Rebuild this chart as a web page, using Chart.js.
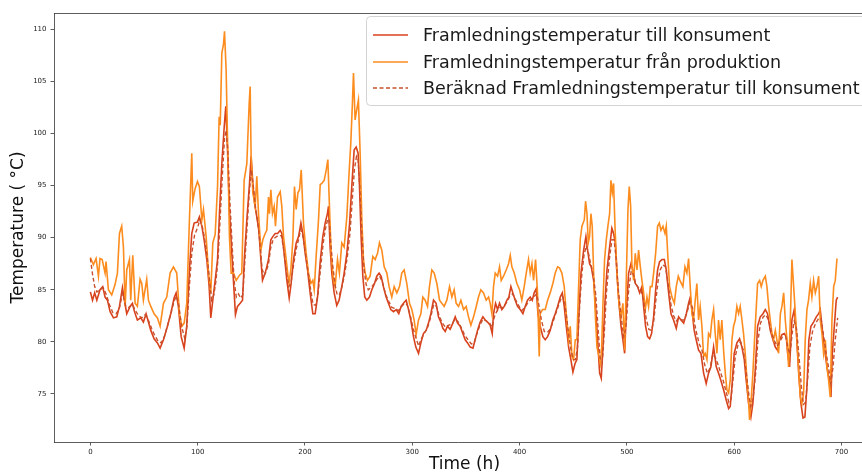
<!DOCTYPE html>
<html>
<head>
<meta charset="utf-8">
<script src="https://cdn.jsdelivr.net/npm/chart.js@4.4.1/dist/chart.umd.min.js"></script>
<style>
  html, body { margin: 0; padding: 0; background: #fff; }
  canvas { display: block; }
</style>
</head>
<body>
<canvas id="tempChart" width="862" height="476"></canvas>
<script>
// Framledningstemperatur till konsument
const consHours = [0,2,4,6,9,11.5,13.7,15.9,18.4,21.5,24.6,27.1,29.9,31.7,33.9,37,39.2,41.1,43.8,47,49.4,51.9,54.1,56.3,59.4,62.5,65,68.1,71.8,74.9,78,79.9,82,84.6,87.4,89.8,92.3,94.5,96.7,99.8,101.6,103.9,106,108.5,110.7,112.2,114.1,116.3,118.5,120.3,122.5,124.7,126.2,127.8,129.6,131.8,134,135.2,137.1,139.6,141.8,143.6,145.8,148.3,149.8,151.4,153,155.1,157,158.9,160.4,162.9,164.4,166,168.2,170,172.2,174.4,176.9,178.4,180.6,183.1,185.3,187.1,189.3,191.8,194,196.2,198,200.2,202.4,204.8,207.3,209.5,211.7,214.2,216.6,218.8,220.9,221.9,223.4,225,227.2,229.6,231.8,234.3,236.5,239,241.4,243.6,245.8,247.7,249.5,250.8,252.3,253.9,255.7,257.6,260.1,262.3,264.8,266.9,269.1,271,273.1,275.6,277.8,280,282.5,285,287.4,289.6,291.8,294.3,296.5,298.6,301.1,303.3,305.8,308,310.4,312.9,315.1,317.3,319.8,322.2,324.4,326.6,328.5,330.7,332.8,335.3,337.8,340,342.2,344.6,347.1,349.3,351.5,354,356.5,358.6,360.8,363.3,365.8,368,370.1,372.6,374.5,375.7,377.6,379.5,381.3,383.5,385.7,388.2,390,391.9,393.7,395.9,398.1,400.6,403.1,405.2,407.4,409.9,411.8,413.6,415.5,417.1,419.2,421.7,423.9,426.1,428.5,431,433.2,435.4,437.9,439.8,441.6,443.5,445.7,447.8,449.7,451.6,453.4,455,457.2,459.7,461.8,463.4,465.2,466.8,469,470.8,472.7,474.6,476.1,477.7,479.5,481.4,483.9,486,487.6,489.2,490.7,492.6,494.5,496.3,497.9,499.4,501.6,503.8,505.6,507.8,510,511.9,514,515.6,517.4,519.3,521.2,523,524.9,526.8,528.6,530.5,532.7,534.9,536.7,538.9,541.1,543.5,546,548.2,550.4,552.9,555.4,557.5,559.1,560.6,562.7,564.6,566.8,569,571.5,573.9,576.1,578.3,580.8,583.3,585.4,587.6,590.1,592.6,594.8,596.3,597.9,600,602.5,605,607.2,609.4,611.2,613.4,615.6,617.4,619.6,621.8,624.3,626.8,629,631.1,633.6,636.1,638.3,640.4,642.3,644.5,646.7,648.5,649.8,651.6,653.8,656,657.8,660.1,662.2,664.1,665.9,667.8,669.6,671.5,674,676.5,678.7,680.2,681.8,684,686.4,688.6,690.2,691.4,693.3,695.1,696.4];
const consTemps = [84.8,84.0,84.7,84.0,85.0,85.3,84.3,84.0,82.9,82.3,82.4,83.4,85.2,84.0,82.7,83.4,83.7,82.9,82.1,82.3,81.9,82.7,81.9,81.1,80.3,79.9,79.4,80.2,81.5,82.7,84.2,84.7,83.4,80.5,79.4,81.5,86.9,90.4,91.4,91.5,92.0,91.1,89.8,87.9,85.3,82.3,84.0,85.9,87.9,92.3,97.1,100.6,102.6,98.4,92.7,88.5,84.7,82.6,83.4,83.7,84.0,88.2,91.7,95.2,97.8,95.2,93.3,92.0,90.7,87.9,85.9,86.6,87.2,87.9,89.8,90.1,90.4,90.4,90.7,90.4,88.5,85.9,84.2,85.6,87.9,89.5,90.1,91.4,90.4,88.5,86.9,84.7,82.7,82.7,84.3,87.7,90.1,91.4,92.3,93.0,89.1,86.6,84.7,83.5,84.0,85.3,86.6,88.5,91.1,94.9,98.4,98.7,98.1,94.9,90.1,86.3,84.3,84.0,84.3,85.0,85.6,86.3,86.6,86.3,85.3,84.3,83.7,83.1,82.9,83.1,82.7,83.4,83.7,84.0,83.1,82.1,80.5,79.5,78.9,79.9,80.8,81.1,81.8,82.7,84.0,83.7,82.4,81.9,81.3,81.0,81.5,81.2,81.8,82.4,81.8,81.5,80.8,80.2,79.9,79.5,79.4,80.2,81.1,81.9,82.4,82.1,81.9,81.6,80.8,82.7,83.7,83.1,83.7,83.1,83.4,84.0,84.3,85.3,84.7,84.0,83.4,83.1,82.7,83.4,84.0,84.3,84.0,84.7,85.1,82.7,81.5,80.5,80.2,80.5,81.1,82.1,82.7,83.4,84.3,84.7,83.4,81.5,79.5,78.3,77.1,77.9,78.3,82.1,86.6,88.8,90.1,88.8,87.5,87.2,85.9,83.4,80.2,77.0,76.5,79.5,83.7,86.9,89.1,90.9,90.4,89.5,86.6,83.7,81.5,80.2,78.9,82.7,86.6,87.5,86.9,85.6,85.3,84.7,85.3,83.4,81.5,80.5,80.3,80.8,82.4,85.0,86.9,87.7,87.9,87.9,86.9,84.7,82.7,82.1,81.3,82.4,82.1,81.8,82.7,83.7,84.3,83.1,81.1,80.2,79.2,78.9,77.0,76.0,77.0,77.6,79.5,77.6,77.0,76.3,75.4,74.4,73.6,73.8,75.7,78.9,79.9,80.3,79.5,78.3,76.3,74.1,72.8,74.1,77.3,81.5,82.4,82.7,83.1,82.7,81.1,80.2,79.5,79.2,80.2,80.7,80.8,80.5,78.9,77.6,82.1,83.1,81.1,77.0,74.1,72.7,72.8,75.7,80.2,81.5,81.9,82.4,82.7,83.1,81.5,79.5,77.6,76.3,74.7,78.9,81.5,84.0,84.3];

// Framledningstemperatur från produktion
const prodHours = [0,2.8,5.3,7.5,9,11,13.7,14.6,16.8,19.9,23,25.2,27.1,29.2,30.8,32.4,33.9,36.4,37.6,39.5,41.7,43.8,46.3,47.9,49.4,52.5,54.1,56.3,59.4,62.5,65,68.1,71.2,74.3,77.4,80.5,83,85.2,87.4,89.8,92.3,94.5,95.4,97.6,99.8,101.6,103.9,105.4,107.9,110.1,112.2,114.1,116.3,118.5,120,121,122.5,124.1,125,126.5,128.1,129.6,131.2,133.4,135.9,139,141.1,143.3,145.8,148,148.9,149.8,151.4,153.6,155.1,156.7,158.9,160.7,162.9,164.4,166,166.9,168.2,169.7,171.3,172.5,174.4,176.9,178.4,180,182.5,185,186.8,188.7,190.2,191.8,193.4,194.9,196.5,198.6,201.1,203.3,205.5,207.3,208.6,210.4,212.6,214.2,215.7,217.9,219.8,221.3,222.8,224.4,226.5,228.1,230.3,232.1,234.3,236.5,239,241.1,242.7,244.2,245.2,246.7,248.3,249.8,251.4,253,254.5,256.1,258.2,260.7,263.2,265.4,267.6,269.4,271.6,273.8,276.3,278.4,280.9,283.1,285.6,288.1,290.2,292.4,294.9,297.4,299.6,301.7,303.6,305.8,308,309.8,312,314.2,316,318.2,320.4,322.9,325.4,327.5,329.7,332.2,334.7,336.9,339,340.9,343.1,345.3,347.8,350.2,352.4,354.6,357.1,359.6,361.7,363.9,366.4,368.9,371.1,372.6,374.2,375.7,377.3,379.5,381.3,382.9,385,387.5,389.7,391.3,392.8,395,397.5,400,402.1,404.3,406.2,408.3,409.9,411.5,413,414.9,416.7,418.3,419.2,421.4,423.9,426.1,428.5,431,433.2,435.4,437.2,439.4,441.6,443.5,445.7,447.2,448.8,450.3,451.9,453.4,455,456.5,458.1,460.3,461.5,462.8,464,465.2,466.5,467.7,469,470.5,472.1,474,475.2,476.4,477.7,479.2,480.8,482.3,483.9,485.1,486.4,487.6,488.9,490.7,492.6,494.5,496.3,497.9,499.4,501,502.2,503.5,504.7,506.3,507.8,509.4,510.9,512.5,514,515.6,517.1,518.7,520.2,521.8,523.4,524.9,526.8,528.6,530.2,531.7,533.6,535.5,536.7,538,539.8,542,544.2,546,547.9,549.8,552.2,554.1,555.9,557.5,559,560.6,562.1,563.7,565.2,566.8,568.3,569.9,571.5,573,574.6,576.1,577.7,579.2,580.8,582.3,583.9,585.4,587,588.5,590.1,591.7,593.2,594.8,596.3,597.9,599.4,601,602.5,604.1,605.6,607.2,608.7,610.3,611.9,613.4,614.3,615.6,617.4,619.6,621.8,623.7,625.2,626.8,629,630.5,632.1,633.6,635.2,636.7,638.3,639.8,641.4,643,644.5,646.1,647.6,649.2,650.7,652.3,653.8,655.4,657,658.5,660.1,661.6,663.1,664.7,666.2,667.8,669.3,670.9,672.4,674,675.6,677.1,678.7,680.2,681.8,683.3,684.9,686.4,688,689.5,691.1,692.7,694.2,695.8];
const prodTemps = [88.1,87.4,88.0,86.3,88.0,87.9,86.6,87.7,85.0,84.5,85.5,86.6,90.4,91.1,89.1,83.4,86.9,87.9,84.0,88.3,83.7,83.4,86.0,85.6,84.0,86.0,84.0,83.4,82.7,82.3,81.5,83.7,84.3,86.6,87.2,86.6,82.7,81.5,81.8,83.7,91.7,98.1,93.5,94.7,95.4,94.9,91.7,92.7,90.1,86.6,84.7,89.5,90.3,94.9,101.6,100.8,107.7,108.6,109.8,106.1,98.1,90.1,86.6,86.6,85.9,86.4,86.6,95.5,97.1,102.9,104.5,97.8,94.3,93.0,95.9,92.3,88.8,89.8,90.4,90.7,93.9,92.3,94.6,92.3,93.0,91.1,93.9,94.4,93.0,90.1,87.9,85.6,86.9,89.8,94.9,92.7,94.3,94.6,96.5,91.4,88.5,86.6,85.6,85.9,85.0,88.2,91.7,95.1,95.2,95.5,96.5,97.5,93.0,88.5,85.9,85.3,87.9,86.6,89.5,89.1,92.0,96.2,99.1,102.9,105.8,101.3,102.3,103.2,98.1,91.7,87.9,86.6,85.9,86.3,88.2,87.9,88.5,89.5,88.8,87.2,86.6,85.3,84.3,85.3,84.7,85.3,86.6,86.9,85.6,83.7,83.1,82.1,80.7,82.1,82.7,84.3,84.0,83.4,85.3,86.9,86.6,85.6,84.0,83.7,83.4,84.0,85.3,84.3,85.0,83.7,83.4,84.0,83.1,83.4,82.4,81.6,82.4,83.4,84.3,85.0,84.7,84.0,84.3,83.7,82.7,85.3,86.6,86.3,87.2,85.9,86.3,86.9,87.5,88.3,87.2,86.6,85.6,85.0,84.0,85.3,86.6,87.9,86.6,87.5,85.9,87.9,84.7,78.6,82.7,83.1,83.1,84.0,84.7,85.6,86.6,87.2,87.1,86.6,85.3,82.7,80.2,81.5,78.6,78.3,80.2,80.2,85.3,89.8,91.1,91.7,93.5,92.3,89.5,90.1,92.3,91.1,86.6,82.7,79.5,78.6,77.9,79.2,83.7,87.9,89.8,91.1,92.3,95.5,94.3,95.2,91.1,86.6,83.7,82.4,83.7,79.2,85.9,92.7,94.9,93.0,87.2,85.9,88.5,86.9,88.8,87.2,85.9,84.7,83.1,84.3,83.4,85.3,85.3,86.6,88.5,91.1,91.4,90.7,91.1,90.4,91.1,88.5,85.3,84.3,83.7,85.3,86.3,85.8,85.3,87.2,86.6,88.0,85.3,82.7,82.1,84.0,85.6,82.1,83.4,81.5,78.6,78.9,78.3,80.8,80.5,82.1,83.1,80.8,78.9,82.1,80.2,82.1,79.2,77.0,75.4,75.1,76.3,80.2,81.5,82.1,83.4,82.7,83.4,82.1,80.8,78.9,76.3,74.4,72.5,74.1,77.0,81.5,85.6,85.9,85.3,85.9,86.3,85.3,83.4,82.1,80.8,80.2,81.1,80.2,78.9,82.7,83.4,84.7,82.1,80.2,77.6,82.1,87.9,85.3,82.7,80.2,77.3,74.7,74.1,75.1,80.2,83.1,84.0,85.6,84.3,85.9,84.7,85.3,86.3,82.1,80.8,78.9,80.2,77.6,76.3,74.7,82.1,85.3,85.9,88.0];

// Beräknad Framledningstemperatur till konsument
const calcHours = [0,2,4,6,9,12,15,18,21,24,27,30,33,36,39,42,45,48,51,54,57,60,63,66,69,72,75,78,80,82,85,88,90,92,94.5,97,100,102,104,106,108.5,111,113,115,117,119,121,123,125,126.5,128,130,132,134,136,138,140,142,144,146,148,150,152,154,156,158,160,162,164,166,168,170,172,175,178,180,183,185,187,189.5,192,194,196,198,200,202.5,205,207.5,210,212,214.5,217,219,221,222.5,224,226,228,230,232,234.5,237,239.5,242,244,246,248,249.5,251,253,255,257,259,261.5,264,267,269.5,272,275,278,281,284,287,290,293,295,298,301,304,306,308,311,314,317,320,322.5,325,328,331,334,337,340,343,346,349,352,355,357.5,360,363,366,369,372,374.5,376.5,379,382,385,388,391,393.5,396,399,402,405,408,411,414,416,418,420.5,423,426,429,432,435,438,440,442,444,446,448,450,452,454,456,458,460,462,464,466,468.5,471,473,475,477,479,481,483.5,486,488,490,492,494.5,497,499,501.5,504,506,508,510.5,513,515.5,518,520.5,523,525,527,529,531,533.5,536,538.5,541,543.5,546,548.5,551,553.5,556,558.5,561,563,565,567.5,570,572.5,575,577.5,580,582.5,585,587.5,590,592.5,595,597,599,601,603.5,606,608.5,611,613.5,615.5,617.5,620,622,624.5,627,629.5,632,634.5,637,640,642.5,645,648,650,652,654,656,658,660.5,662.5,664.5,666.5,668.5,670.5,673,676,679,681,683,685.5,688,690,692,694,696.4];
const calcTemps = [88.0,86.5,85.3,84.8,85.0,85.2,84.5,83.5,82.8,82.7,83.2,84.7,83.4,83.3,83.6,83.0,82.5,82.3,82.6,82.1,81.3,80.6,80.1,79.9,80.5,81.6,82.7,83.9,84.4,83.8,81.5,80.3,81.5,85.0,88.5,90.2,91.0,91.7,91.2,90.2,88.5,86.0,84.0,84.5,85.8,88.0,92.0,96.0,99.5,100.3,98.5,93.5,89.5,85.8,84.3,84.6,84.2,84.5,87.8,91.0,94.2,96.5,94.8,92.8,91.5,89.5,87.0,86.4,86.8,87.5,89.0,89.7,90.0,90.2,90.2,89.0,86.5,85.3,85.7,87.5,89.0,89.8,90.8,90.2,88.8,87.0,85.2,83.6,83.5,84.5,87.0,89.5,90.8,91.7,91.8,89.5,87.2,85.5,84.5,84.5,85.3,86.5,88.2,90.5,93.5,96.5,97.8,97.5,95.0,90.5,87.0,85.5,85.0,85.2,85.5,86.0,86.3,85.8,84.6,83.9,83.3,83.2,83.0,83.4,83.7,83.6,82.6,81.2,80.2,79.6,80.2,80.8,81.3,82.3,83.6,83.4,82.5,81.8,81.4,81.6,81.7,82.2,81.9,81.3,80.6,80.2,79.8,79.9,80.7,81.6,82.2,82.0,81.8,81.4,82.4,83.0,83.3,83.3,83.8,84.4,84.6,84.1,83.5,83.0,83.3,83.8,84.1,84.4,84.6,83.5,82.0,81.0,80.9,81.3,82.2,83.1,84.0,84.4,83.8,82.2,80.5,79.2,78.3,78.3,79.5,83.5,86.5,88.3,89.2,88.6,87.6,86.5,84.5,81.5,78.5,78.0,81.0,84.8,87.8,89.8,89.8,88.0,85.0,82.5,80.5,81.3,84.8,86.8,86.5,85.6,85.2,85.0,84.0,82.2,81.2,81.1,82.0,84.0,85.8,86.9,87.4,87.2,85.5,83.6,82.5,82.0,82.3,82.1,82.1,82.8,83.8,83.3,81.8,80.8,79.8,79.2,77.8,77.0,77.5,78.8,78.5,77.8,77.0,76.2,75.2,74.2,74.5,76.5,78.6,79.7,80.0,79.2,77.3,75.0,73.8,74.5,77.0,80.0,81.8,82.4,82.6,82.1,81.0,80.2,79.6,80.0,80.5,80.5,79.5,78.8,80.8,82.0,81.3,78.5,75.8,74.0,74.2,76.5,79.5,81.0,81.8,82.3,82.2,80.8,79.0,77.5,76.0,77.5,80.0,82.3];

const xTicks = [0, 100, 200, 300, 400, 500, 600, 700];
const yTicks = [75, 80, 85, 90, 95, 100, 105, 110];
const xTitle = 'Time (h)';

const toPoints = (hours, temps) => hours.map((h, i) => ({ x: h, y: temps[i] }));

// frame top, x title and legend, laid out like the matplotlib original
const boxLegend = {
  id: 'boxLegend',
  afterDraw(chart) {
    const ctx = chart.ctx;
    const area = chart.chartArea;
    ctx.save();
    ctx.strokeStyle = '#333';
    ctx.lineWidth = 0.8;
    ctx.beginPath();
    ctx.moveTo(area.left, area.top + 0.5);
    ctx.lineTo(area.right, area.top + 0.5);
    ctx.stroke();

    // the original plot frame ends ~13px past the picture, so its centre is shifted
    ctx.font = '17px "DejaVu Sans"';
    ctx.fillStyle = '#111';
    ctx.textAlign = 'center';
    ctx.textBaseline = 'middle';
    ctx.fillText(xTitle, (area.left + area.right + 13) / 2, 465);

    const x0 = 366, y0 = 16, w = 520, h = 89, r = 4;
    ctx.fillStyle = 'rgba(255,255,255,0.85)';
    ctx.strokeStyle = '#d3d3d3';
    ctx.lineWidth = 1;
    ctx.beginPath();
    ctx.roundRect(x0 + 0.5, y0 + 0.5, w, h, r);
    ctx.fill();
    ctx.stroke();

    const rows = [35, 62, 88];
    ctx.font = '17.5px "DejaVu Sans"';
    ctx.textAlign = 'left';
    chart.data.datasets.forEach((ds, i) => {
      const y = rows[i];
      ctx.strokeStyle = ds.borderColor;
      ctx.lineWidth = 1.5;
      ctx.setLineDash(ds.borderDash || []);
      ctx.beginPath();
      ctx.moveTo(373, y);
      ctx.lineTo(408, y);
      ctx.stroke();
      ctx.setLineDash([]);
      ctx.fillStyle = '#1a1a1a';
      ctx.fillText(ds.label, 423, y + 1);
    });
    ctx.restore();
  }
};

new Chart(document.getElementById('tempChart'), {
  type: 'line',
  data: {
    datasets: [
      {
        label: 'Framledningstemperatur till konsument',
        data: toPoints(consHours, consTemps),
        borderColor: '#d8421c',
        borderWidth: 1.6,
        pointRadius: 0,
        order: 3,
      },
      {
        label: 'Framledningstemperatur från produktion',
        data: toPoints(prodHours, prodTemps),
        borderColor: '#fd8c1e',
        borderWidth: 1.6,
        pointRadius: 0,
        order: 2,
      },
      {
        label: 'Beräknad Framledningstemperatur till konsument',
        data: toPoints(calcHours, calcTemps),
        borderColor: '#c8502c',
        borderWidth: 1.4,
        borderDash: [4, 2.5],
        pointRadius: 0,
        order: 1,
      },
    ],
  },
  options: {
    responsive: false,
    animation: false,
    devicePixelRatio: 1,
    layout: { padding: { top: 13, left: 0, right: 0, bottom: 0 } },
    plugins: { legend: { display: false }, tooltip: { enabled: false } },
    scales: {
      x: {
        type: 'linear',
        min: -33.9,
        max: 719.1,
        afterFit: (scale) => { scale.height = 34; },
        afterBuildTicks: (scale) => { scale.ticks = xTicks.map(v => ({ value: v })); },
        grid: { drawOnChartArea: false, drawTicks: true, tickLength: 3.5, color: '#333', lineWidth: 0.8 },
        border: { display: true, color: '#333', width: 0.8 },
        ticks: { font: { family: 'DejaVu Sans', size: 7 }, color: '#222', padding: 2, maxRotation: 0 },
      },
      y: {
        min: 70.39,
        max: 111.56,
        afterFit: (scale) => { scale.width = 54; },
        afterBuildTicks: (scale) => { scale.ticks = yTicks.map(v => ({ value: v })); },
        grid: { drawOnChartArea: false, drawTicks: true, tickLength: 3.5, color: '#333', lineWidth: 0.8 },
        border: { display: true, color: '#333', width: 0.8 },
        ticks: { font: { family: 'DejaVu Sans', size: 7 }, color: '#222', padding: 4 },
        title: { display: true, text: 'Temperature ( °C)', font: { family: 'DejaVu Sans', size: 17 }, color: '#111', padding: { top: 8, bottom: 0 } },
      },
    },
  },
  plugins: [boxLegend],
});
</script>
</body>
</html>
